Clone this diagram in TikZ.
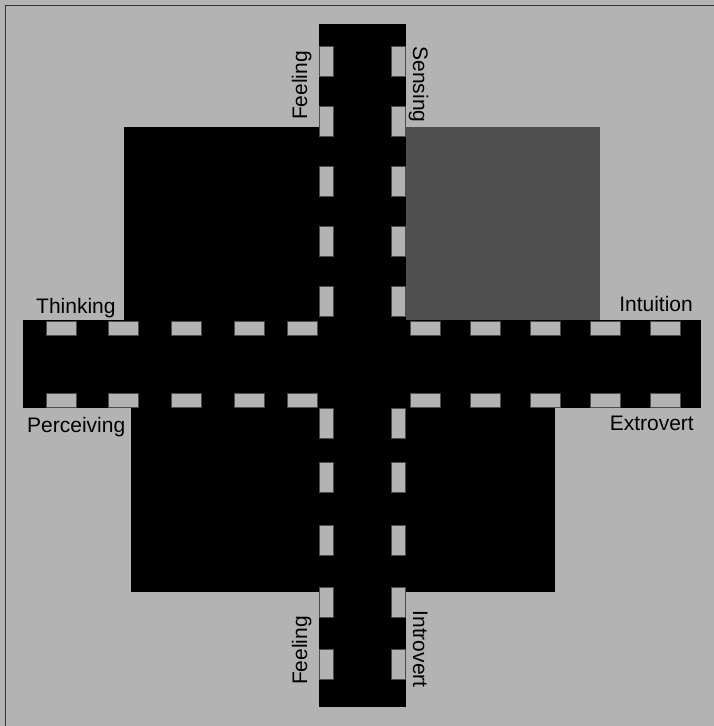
\documentclass[tikz,border=0pt]{standalone}
\usepackage{fontspec}
\setmainfont{Liberation Sans}
\definecolor{bggray}{HTML}{B3B3B3}
\definecolor{quadgray}{HTML}{505050}
\tikzset{
  road/.style={fill=black},
  quadrant/.style={fill=black},
  lane/.style={fill=bggray, draw=black!70, line width=0.6pt},
  trait/.style={font=\fontsize{21}{24}\selectfont, inner sep=0pt},
}

\begin{document}
\begin{tikzpicture}[x=1pt, y=-1pt]
  % Background
  \fill[bggray] (0,0) rectangle (714,726);
  \useasboundingbox (0,0) rectangle (714,726);
  \draw[black!80, line width=1.5pt] (5.5,726) -- (5.5,5.5) -- (714,5.5);

  % Quadrants
  \fill[quadrant] (124,127) rectangle (319,320);
  \fill[quadgray] (406,127) rectangle (600,320);
  \fill[quadrant] (131,408) rectangle (319,592);
  \fill[quadrant] (406,408) rectangle (555,592);

  % Roads
  \fill[road] (319,24) rectangle (406,707);
  \fill[road] (23,320) rectangle (701,408);

  % Lane marks
  \foreach \y in {46,106,166,226,286,408,462,525,587,649} {
    \draw[lane] (319,\y) rectangle ++(14,30);
    \draw[lane] (391,\y) rectangle ++(14,30);
  }
  \foreach \x in {46,108,171,234,287,410,470,530,590,650} {
    \draw[lane] (\x,321) rectangle ++(30,14);
    \draw[lane] (\x,393) rectangle ++(30,14);
  }

  % Labels
  \node[trait, rotate=90, anchor=base] (feelingtop) at (307,85.5) {Feeling};
  \node[trait, rotate=-90, anchor=base] (sensing) at (413,84.5) {Sensing};
  \node[trait, anchor=base west] (thinking) at (36,313) {Thinking};
  \node[trait, anchor=base west] (perceiving) at (27,432) {Perceiving};
  \node[trait, anchor=base east] (intuition) at (693,311) {Intuition};
  \node[trait, anchor=base east] (extrovert) at (694,430) {Extrovert};
  \node[trait, rotate=90, anchor=base] (feelingbot) at (307,650.5) {Feeling};
  \node[trait, rotate=-90, anchor=base] (introvert) at (413,649) {Introvert};
\end{tikzpicture}
\end{document}
